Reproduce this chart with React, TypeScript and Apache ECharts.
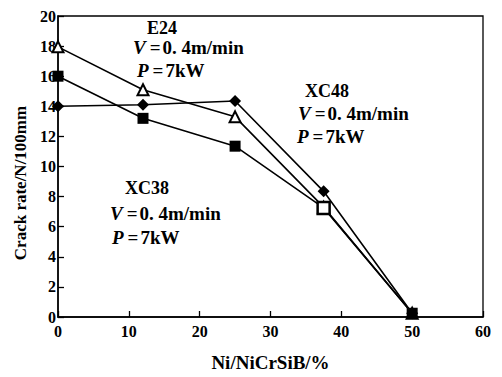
import React, { useEffect, useRef } from "react";
import * as echarts from "echarts";

const xValues = [0, 12, 25, 37.5, 50];
const diamondSeries = [14.0, 14.1, 14.35, 8.35, 0.25];
const triangleSeries = [17.95, 15.1, 13.3, 7.3, 0.25];
const squareSeries = [16.0, 13.2, 11.35, 7.25, 0.25];
const xTicks = [0, 10, 20, 30, 40, 50, 60];
const yTicks = [0, 2, 4, 6, 8, 10, 12, 14, 16, 18, 20];
const yAxisTitle = "Crack rate/N/100mm";
const xAxisTitle = "Ni/NiCrSiB/%";
const conditionV = "0. 4m/min";
const conditionP = "7kW";

const FONT = "'Liberation Serif', 'DejaVu Serif', serif";

function pairs(vals: number[]) {
  return xValues.map((x, i) => [x, vals[i]]);
}

export default function App() {
  const ref = useRef<HTMLDivElement>(null);
  useEffect(() => {
    document.body.style.margin = "0";
    if (!ref.current) return;
    const chart = echarts.init(ref.current, null, { renderer: "svg" });
    const lineStyle = { color: "#000", width: 1.6 };
    const rich = {
      i: { fontFamily: FONT, fontStyle: "italic", fontWeight: "bold", fontSize: 19, fill: "#000" },
      e: { fontFamily: FONT, fontWeight: "bold", fontSize: 19, fill: "#000", padding: [0, 2, 0, 4] },
      n: { fontFamily: FONT, fontWeight: "bold", fontSize: 19, fill: "#000" },
    };
    const text = (x: number, y: number, t: string, size: number) => ({
      type: "text",
      x,
      y,
      style: {
        text: t,
        fontFamily: FONT,
        fontWeight: "bold",
        fontSize: size,
        fill: "#000",
        rich,
        verticalAlign: "middle",
        align: "left",
      },
    });
    const block = (name: string, hx: number, hy: number, vx: number, vy: number, px: number, py: number) => [
      text(hx, hy, name, 18),
      text(vx, vy, `{i|V}{e|=}{n|${conditionV}}`, 19),
      text(px, py, `{i|P}{e|=}{n|${conditionP}}`, 19),
    ];
    chart.setOption({
      animation: false,
      backgroundColor: "#fff",
      grid: { left: 58, right: 19, top: 16, bottom: 51, show: true, borderColor: "#000", borderWidth: 1.3 },
      xAxis: {
        type: "value",
        min: 0,
        max: 60,
        interval: 10,
        name: xAxisTitle,
        nameLocation: "middle",
        nameGap: 36,
        nameTextStyle: { fontFamily: FONT, fontWeight: "bold", fontSize: 19, color: "#000" },
        axisLine: { lineStyle: { color: "#000", width: 1.5 } },
        axisTick: { inside: true, length: 6, lineStyle: { color: "#000", width: 1.3 } },
        axisLabel: {
          fontFamily: FONT,
          fontWeight: "bold",
          fontSize: 16,
          color: "#000",
          margin: 6,
          formatter: (v: number) => (xTicks.includes(v) ? String(v) : ""),
        },
        splitLine: { show: false },
      },
      yAxis: {
        type: "value",
        min: 0,
        max: 20,
        interval: 2,
        axisLine: { lineStyle: { color: "#000", width: 1.5 } },
        axisTick: { inside: true, length: 6, lineStyle: { color: "#000", width: 1.3 } },
        axisLabel: {
          fontFamily: FONT,
          fontWeight: "bold",
          fontSize: 16,
          color: "#000",
          margin: 2,
          formatter: (v: number) => (yTicks.includes(v) ? String(v) : ""),
        },
        splitLine: { show: false },
      },
      series: [
        {
          name: "XC48",
          type: "line",
          data: pairs(diamondSeries),
          symbol: "diamond",
          symbolSize: 12,
          itemStyle: { color: "#000" },
          lineStyle,
        },
        {
          name: "E24",
          type: "line",
          data: pairs(triangleSeries),
          symbol: "triangle",
          symbolSize: 11,
          itemStyle: { color: "#fff", borderColor: "#000", borderWidth: 2 },
          lineStyle,
        },
        {
          name: "XC38",
          type: "line",
          data: pairs(squareSeries).map((p, i) =>
            i === 3 ? { value: p, itemStyle: { color: "#fff", borderColor: "#000", borderWidth: 2.5 }, symbolSize: 12 } : p
          ),
          symbol: "rect",
          symbolSize: 11,
          itemStyle: { color: "#000" },
          lineStyle,
        },
      ],
      graphic: [
        {
          type: "text",
          x: 20,
          y: 183,
          rotation: Math.PI / 2,
          style: {
            text: yAxisTitle,
            fontFamily: FONT,
            fontWeight: "bold",
            fontSize: 17,
            fill: "#000",
            align: "center",
            verticalAlign: "middle",
          },
        },
        ...block("E24", 147, 28, 133, 47, 137, 70),
        ...block("XC48", 305, 91, 298, 113, 297, 136),
        ...block("XC38", 125, 188, 110, 213, 112, 237),
      ],
    });
    return () => chart.dispose();
  }, []);
  return <div ref={ref} style={{ width: 502, height: 377 }} />;
}
